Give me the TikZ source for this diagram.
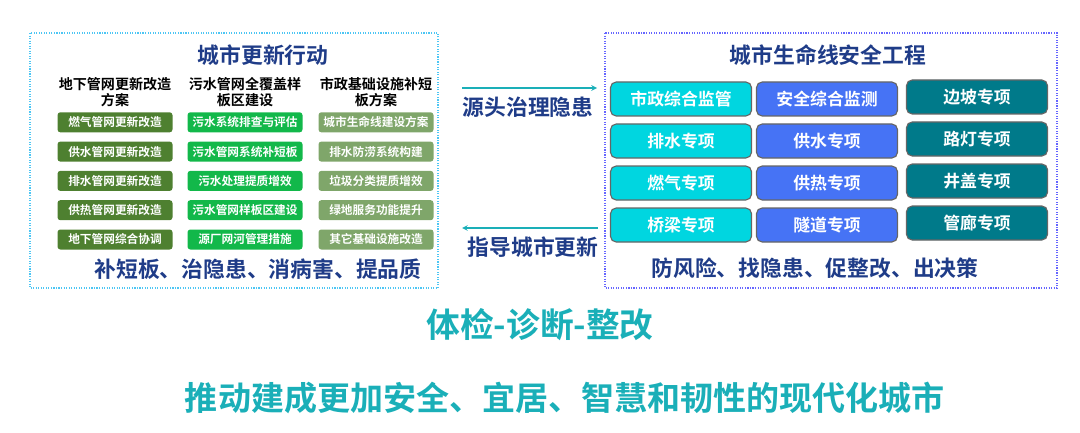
\documentclass[tikz,border=0pt]{standalone}
\usepackage{fontspec}
\setmainfont{Noto Sans CJK SC}[BoldFont={Noto Sans CJK SC Bold}]
\definecolor{navy}{HTML}{1F3C88}
\definecolor{dkgreen}{HTML}{4E8030}
\definecolor{brgreen}{HTML}{12B84A}
\definecolor{mgreen}{HTML}{7FA66A}
\definecolor{cyanbox}{HTML}{00D6E0}
\definecolor{bluebox}{HTML}{4673F5}
\definecolor{tealbox}{HTML}{007A8A}
\definecolor{tealtxt}{HTML}{1AAFB8}
\newlength{\pxu}\setlength{\pxu}{0.025cm}
\tikzset{
  gbox/.style={rounded corners=2pt, minimum width=115\pxu, minimum height=20\pxu, text=white, font=\fontsize{8.3}{9}\selectfont\bfseries, inner sep=0pt},
  rbox/.style={rounded corners=4pt, draw=black!60, thick, minimum width=141\pxu, minimum height=34\pxu, text=white, font=\fontsize{12}{13}\selectfont\bfseries, inner sep=0pt},
  head/.style={font=\fontsize{10}{11}\selectfont\bfseries, align=center},
}
\begin{document}
\begin{tikzpicture}[x=0.025cm, y=-0.025cm]
\useasboundingbox (0,0) rectangle (1080,433);
% frames
\draw[cyan!70, densely dotted, thick] (30,33) rectangle (438,288);
\draw[blue!60, densely dotted, thick] (605,33) rectangle (1057,288);

% left part
\node[text=navy, font=\fontsize{15.5}{17}\selectfont\bfseries] (ltitle) at (263,55) {城市更新行动};
\node[head] (h1) at (115,92) {地下管网更新改造\\方案};
\node[head] (h2) at (245,92) {污水管网全覆盖样\\板区建设};
\node[head] (h3) at (376,92) {市政基础设施补短\\板方案};
\foreach \t [count=\i] in {燃气管网更新改造,供水管网更新改造,排水管网更新改造,供热管网更新改造,地下管网综合协调}
  \node[gbox, fill=dkgreen] (a\i) at (115,93+29.3*\i) {\t};
\foreach \t [count=\i] in {污水系统排查与评估,污水管网系统补短板,污水处理提质增效,污水管网样板区建设,源厂网河管理措施}
  \node[gbox, fill=brgreen] (b\i) at (245,93+29.3*\i) {\t};
\foreach \t [count=\i] in {城市生命线建设方案,排水防涝系统构建,垃圾分类提质增效,绿地服务功能提升,其它基础设施改造}
  \node[gbox, fill=mgreen] (c\i) at (376,93+29.3*\i) {\t};
\node[text=navy, font=\fontsize{15.5}{17}\selectfont\bfseries] (lfoot) at (258,269) {补短板、治隐患、消病害、提品质};

% right part
\node[text=navy, font=\fontsize{15.5}{17}\selectfont\bfseries] (rtitle) at (828,55) {城市生命线安全工程};
\foreach \t [count=\i] in {市政综合监管,排水专项,燃气专项,桥梁专项}
  \node[rbox, fill=cyanbox] (p\i) at (681,57+42*\i) {\t};
\foreach \t [count=\i] in {安全综合监测,供水专项,供热专项,隧道专项}
  \node[rbox, fill=bluebox] (q\i) at (827,57+42*\i) {\t};
\foreach \t [count=\i] in {边坡专项,路灯专项,井盖专项,管廊专项}
  \node[rbox, fill=tealbox] (r\i) at (977,55+42*\i) {\t};
\node[text=navy, font=\fontsize{15.5}{17}\selectfont\bfseries] (rfoot) at (815,268) {防风险、找隐患、促整改、出决策};

% arrows between the parts
\coordinate (s1) at (462,88);
\coordinate (e1) at (597,88);
\coordinate (s2) at (598,228);
\coordinate (e2) at (462,228);
\draw[->, >=stealth, tealtxt, thick] (s1) -- (e1);
\draw[->, >=stealth, tealtxt, thick] (s2) -- (e2);
\node[text=navy, font=\fontsize{15.5}{17}\selectfont\bfseries] (m1) at (528,107) {源头治理隐患};
\node[text=navy, font=\fontsize{15.5}{17}\selectfont\bfseries] (m2) at (533,247) {指导城市更新};

% bottom lines
\node[text=tealtxt, font=\fontsize{24}{28}\selectfont\bfseries] (check) at (540,325) {体检-诊断-整改};
\node[text=tealtxt, font=\fontsize{23.5}{28}\selectfont\bfseries] (goal) at (565,398) {推动建成更加安全、宜居、智慧和韧性的现代化城市};
\end{tikzpicture}
\end{document}
